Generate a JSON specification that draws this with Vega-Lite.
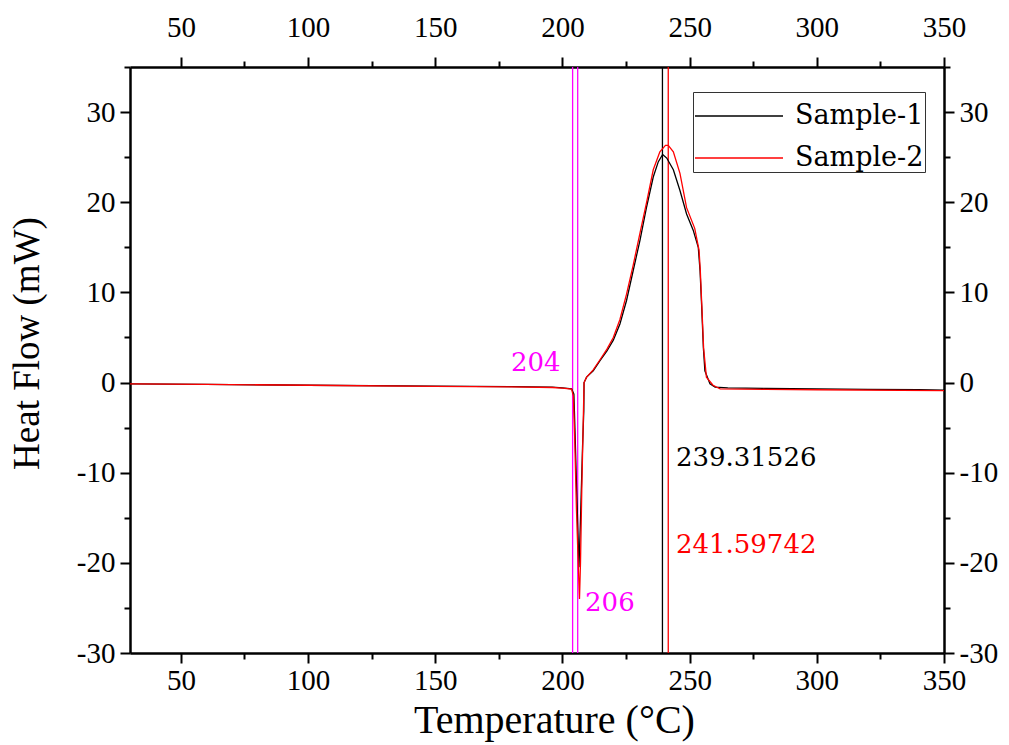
{
  "$schema": "https://vega.github.io/schema/vega-lite/v6.json",
  "width": 814,
  "height": 586,
  "autosize": "none",
  "padding": {"left": 130, "top": 67, "right": 65, "bottom": 92},
  "background": "white",
  "config": {
    "view": {"stroke": null},
    "font": "Liberation Serif",
    "axis": {
      "domainColor": "black",
      "domainWidth": 2.5,
      "tickColor": "black",
      "tickWidth": 2,
      "labelFont": "Liberation Serif",
      "labelFontSize": 29,
      "labelColor": "black",
      "titleFont": "Liberation Serif",
      "titleFontSize": 38,
      "titleFontWeight": "normal",
      "titleColor": "black",
      "grid": false,
      "labelOverlap": false,
      "labelBound": false,
      "labelFlush": false
    },
    "legend": {
      "labelFont": "DejaVu Serif",
      "labelFontSize": 27,
      "labelColor": "black"
    }
  },
  "datasets": {
    "curves": [
      {"T": 30, "HF": -0.15, "sample": "Sample-1"},
      {"T": 60, "HF": -0.2, "sample": "Sample-1"},
      {"T": 100, "HF": -0.3, "sample": "Sample-1"},
      {"T": 150, "HF": -0.4, "sample": "Sample-1"},
      {"T": 180, "HF": -0.45, "sample": "Sample-1"},
      {"T": 196, "HF": -0.5, "sample": "Sample-1"},
      {"T": 200, "HF": -0.6, "sample": "Sample-1"},
      {"T": 203.6, "HF": -0.7, "sample": "Sample-1"},
      {"T": 204.5, "HF": -1.3, "sample": "Sample-1"},
      {"T": 204.9, "HF": -5.0, "sample": "Sample-1"},
      {"T": 205.6, "HF": -12.0, "sample": "Sample-1"},
      {"T": 206.5, "HF": -20.5, "sample": "Sample-1"},
      {"T": 207.1, "HF": -15.1, "sample": "Sample-1"},
      {"T": 207.9, "HF": -7.2, "sample": "Sample-1"},
      {"T": 208.4, "HF": -3.1, "sample": "Sample-1"},
      {"T": 208.5, "HF": 0.0, "sample": "Sample-1"},
      {"T": 209.5, "HF": 0.6, "sample": "Sample-1"},
      {"T": 212.1, "HF": 1.3, "sample": "Sample-1"},
      {"T": 214.7, "HF": 2.4, "sample": "Sample-1"},
      {"T": 217.5, "HF": 3.5, "sample": "Sample-1"},
      {"T": 220.0, "HF": 4.7, "sample": "Sample-1"},
      {"T": 222.6, "HF": 6.5, "sample": "Sample-1"},
      {"T": 225.2, "HF": 9.1, "sample": "Sample-1"},
      {"T": 227.8, "HF": 12.4, "sample": "Sample-1"},
      {"T": 230.5, "HF": 15.8, "sample": "Sample-1"},
      {"T": 233.1, "HF": 19.5, "sample": "Sample-1"},
      {"T": 235.7, "HF": 22.8, "sample": "Sample-1"},
      {"T": 237.7, "HF": 24.5, "sample": "Sample-1"},
      {"T": 239.4, "HF": 25.3, "sample": "Sample-1"},
      {"T": 241.0, "HF": 24.9, "sample": "Sample-1"},
      {"T": 243.6, "HF": 23.6, "sample": "Sample-1"},
      {"T": 246.2, "HF": 21.3, "sample": "Sample-1"},
      {"T": 248.8, "HF": 18.7, "sample": "Sample-1"},
      {"T": 251.4, "HF": 16.9, "sample": "Sample-1"},
      {"T": 253.4, "HF": 15.0, "sample": "Sample-1"},
      {"T": 254.1, "HF": 12.4, "sample": "Sample-1"},
      {"T": 254.7, "HF": 8.7, "sample": "Sample-1"},
      {"T": 255.4, "HF": 3.9, "sample": "Sample-1"},
      {"T": 256.0, "HF": 1.3, "sample": "Sample-1"},
      {"T": 258.0, "HF": -0.15, "sample": "Sample-1"},
      {"T": 260, "HF": -0.5, "sample": "Sample-1"},
      {"T": 265, "HF": -0.6, "sample": "Sample-1"},
      {"T": 280, "HF": -0.65, "sample": "Sample-1"},
      {"T": 300, "HF": -0.7, "sample": "Sample-1"},
      {"T": 320, "HF": -0.75, "sample": "Sample-1"},
      {"T": 340, "HF": -0.8, "sample": "Sample-1"},
      {"T": 350, "HF": -0.85, "sample": "Sample-1"},
      {"T": 30, "HF": -0.15, "sample": "Sample-2"},
      {"T": 60, "HF": -0.2, "sample": "Sample-2"},
      {"T": 100, "HF": -0.3, "sample": "Sample-2"},
      {"T": 150, "HF": -0.42, "sample": "Sample-2"},
      {"T": 180, "HF": -0.48, "sample": "Sample-2"},
      {"T": 196, "HF": -0.55, "sample": "Sample-2"},
      {"T": 200, "HF": -0.62, "sample": "Sample-2"},
      {"T": 203.6, "HF": -0.72, "sample": "Sample-2"},
      {"T": 204.3, "HF": -1.5, "sample": "Sample-2"},
      {"T": 204.8, "HF": -6.0, "sample": "Sample-2"},
      {"T": 205.5, "HF": -14.0, "sample": "Sample-2"},
      {"T": 206.2, "HF": -20.0, "sample": "Sample-2"},
      {"T": 206.7, "HF": -24.0, "sample": "Sample-2"},
      {"T": 207.1, "HF": -20.0, "sample": "Sample-2"},
      {"T": 207.6, "HF": -12.0, "sample": "Sample-2"},
      {"T": 208.2, "HF": -4.0, "sample": "Sample-2"},
      {"T": 208.5, "HF": 0.0, "sample": "Sample-2"},
      {"T": 209.5, "HF": 0.6, "sample": "Sample-2"},
      {"T": 212.1, "HF": 1.4, "sample": "Sample-2"},
      {"T": 214.7, "HF": 2.5, "sample": "Sample-2"},
      {"T": 217.5, "HF": 3.7, "sample": "Sample-2"},
      {"T": 220.0, "HF": 5.0, "sample": "Sample-2"},
      {"T": 222.6, "HF": 7.0, "sample": "Sample-2"},
      {"T": 225.2, "HF": 9.8, "sample": "Sample-2"},
      {"T": 227.8, "HF": 13.0, "sample": "Sample-2"},
      {"T": 230.5, "HF": 16.6, "sample": "Sample-2"},
      {"T": 233.1, "HF": 20.0, "sample": "Sample-2"},
      {"T": 235.7, "HF": 23.6, "sample": "Sample-2"},
      {"T": 238.3, "HF": 25.6, "sample": "Sample-2"},
      {"T": 240.5, "HF": 26.3, "sample": "Sample-2"},
      {"T": 241.6, "HF": 26.3, "sample": "Sample-2"},
      {"T": 243.6, "HF": 25.6, "sample": "Sample-2"},
      {"T": 246.2, "HF": 23.2, "sample": "Sample-2"},
      {"T": 248.8, "HF": 19.4, "sample": "Sample-2"},
      {"T": 252.0, "HF": 17.1, "sample": "Sample-2"},
      {"T": 253.7, "HF": 14.7, "sample": "Sample-2"},
      {"T": 254.2, "HF": 12.4, "sample": "Sample-2"},
      {"T": 254.8, "HF": 8.5, "sample": "Sample-2"},
      {"T": 255.5, "HF": 3.8, "sample": "Sample-2"},
      {"T": 256.6, "HF": 0.6, "sample": "Sample-2"},
      {"T": 259.2, "HF": -0.3, "sample": "Sample-2"},
      {"T": 262, "HF": -0.7, "sample": "Sample-2"},
      {"T": 280, "HF": -0.75, "sample": "Sample-2"},
      {"T": 300, "HF": -0.8, "sample": "Sample-2"},
      {"T": 350, "HF": -0.9, "sample": "Sample-2"}
    ]
  },
  "layer": [
    {
      "data": {"values": [{"T": 204}, {"T": 206}]},
      "mark": {"type": "rule", "color": "#FF00FF", "strokeWidth": 1.3},
      "encoding": {
        "x": {"field": "T", "type": "quantitative", "scale": {"domain": [30, 350], "nice": false, "zero": false}, "axis": null}
      }
    },
    {
      "data": {"values": [{"T": 239.31526}]},
      "mark": {"type": "rule", "color": "black", "strokeWidth": 1.3},
      "encoding": {
        "x": {"field": "T", "type": "quantitative", "axis": null}
      }
    },
    {
      "data": {"values": [{"T": 241.59742}]},
      "mark": {"type": "rule", "color": "#FF0000", "strokeWidth": 1.3},
      "encoding": {
        "x": {"field": "T", "type": "quantitative", "axis": null}
      }
    },
    {
      "data": {"name": "curves"},
      "mark": {"type": "line", "strokeWidth": 1.3, "interpolate": "linear"},
      "encoding": {
        "x": {
          "field": "T", "type": "quantitative",
          "scale": {"domain": [30, 350], "nice": false, "zero": false},
          "axis": {
            "orient": "bottom",
            "title": "Temperature (°C)",
            "titleFontSize": 40,
            "titleX": 424,
            "values": [50, 75, 100, 125, 150, 175, 200, 225, 250, 275, 300, 325, 350],
            "labelExpr": "datum.value % 50 === 0 ? datum.label : ''",
            "tickSize": {"condition": {"test": "datum.value % 50 === 0", "value": 10}, "value": 6},
            "labelPadding": 3,
            "titlePadding": 5
          }
        },
        "y": {
          "field": "HF", "type": "quantitative",
          "scale": {"domain": [-30, 35], "nice": false, "zero": false},
          "axis": {
            "orient": "left",
            "title": "Heat Flow (mW)",
            "titleFontSize": 37,
            "titleY": 276,
            "values": [-30, -25, -20, -15, -10, -5, 0, 5, 10, 15, 20, 25, 30, 35],
            "labelExpr": "datum.value % 10 === 0 ? '' + datum.value : ''",
            "tickSize": {"condition": {"test": "datum.value % 10 === 0", "value": 10}, "value": 6},
            "labelPadding": 5,
            "titlePadding": 30
          }
        },
        "color": {
          "field": "sample", "type": "nominal",
          "scale": {"domain": ["Sample-1", "Sample-2"], "range": ["#000000", "#FF0000"]},
          "legend": {
            "orient": "none",
            "legendX": 563,
            "legendY": 25,
            "title": null,
            "symbolType": "M-1,0H3",
            "symbolSize": 1936,
            "symbolStrokeWidth": 1.3,
            "symbolFillColor": "transparent",
            "strokeColor": "#333333",
            "padding": 1,
            "rowPadding": 6,
            "labelOffset": 55
          }
        }
      }
    },
    {
      "data": {"values": [{"T": 244.6, "HF": -8.4, "label": "239.31526"}]},
      "mark": {"type": "text", "color": "black", "align": "left", "baseline": "middle", "fontSize": 26, "font": "DejaVu Serif"},
      "encoding": {
        "x": {
          "field": "T", "type": "quantitative",
          "axis": {
            "orient": "top",
            "title": null,
            "values": [50, 75, 100, 125, 150, 175, 200, 225, 250, 275, 300, 325, 350],
            "labelExpr": "datum.value % 50 === 0 ? datum.label : ''",
            "tickSize": {"condition": {"test": "datum.value % 50 === 0", "value": 10}, "value": 6},
            "labelPadding": 15
          }
        },
        "y": {
          "field": "HF", "type": "quantitative",
          "axis": {
            "orient": "right",
            "title": null,
            "values": [-30, -25, -20, -15, -10, -5, 0, 5, 10, 15, 20, 25, 30, 35],
            "labelExpr": "datum.value % 10 === 0 ? '' + datum.value : ''",
            "tickSize": {"condition": {"test": "datum.value % 10 === 0", "value": 10}, "value": 6},
            "labelPadding": 5
          }
        },
        "text": {"field": "label"}
      }
    },
    {
      "data": {"values": [{"T": 244.6, "HF": -18.0, "label": "241.59742"}]},
      "mark": {"type": "text", "color": "#FF0000", "align": "left", "baseline": "middle", "fontSize": 26, "font": "DejaVu Serif"},
      "encoding": {
        "x": {"field": "T", "type": "quantitative", "axis": null},
        "y": {"field": "HF", "type": "quantitative", "axis": null},
        "text": {"field": "label"}
      }
    },
    {
      "data": {"values": [{"T": 199.3, "HF": 2.2, "label": "204"}]},
      "mark": {"type": "text", "color": "#FF00FF", "align": "right", "baseline": "middle", "fontSize": 26, "font": "DejaVu Serif"},
      "encoding": {
        "x": {"field": "T", "type": "quantitative", "axis": null},
        "y": {"field": "HF", "type": "quantitative", "axis": null},
        "text": {"field": "label"}
      }
    },
    {
      "data": {"values": [{"T": 208.9, "HF": -24.4, "label": "206"}]},
      "mark": {"type": "text", "color": "#FF00FF", "align": "left", "baseline": "middle", "fontSize": 26, "font": "DejaVu Serif"},
      "encoding": {
        "x": {"field": "T", "type": "quantitative", "axis": null},
        "y": {"field": "HF", "type": "quantitative", "axis": null},
        "text": {"field": "label"}
      }
    }
  ],
  "resolve": {"axis": {"x": "independent", "y": "independent"}}
}
